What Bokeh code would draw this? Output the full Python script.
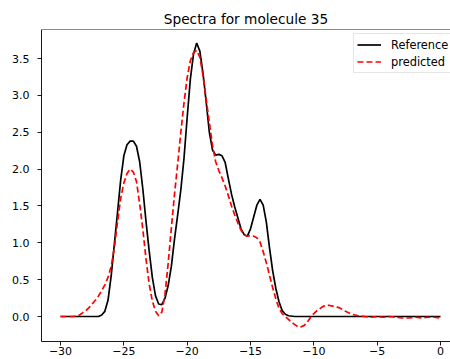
from bokeh.plotting import figure
from bokeh.models import Span, FixedTicker, Legend, LegendItem, Range1d
from bokeh.embed import file_html
from bokeh.resources import INLINE

# ---- data ----
x_ref = [-30, -29, -28, -27.5, -27.25, -27, -26.75, -26.5, -26.25, -26, -25.75, -25.5, -25.25,
         -25, -24.75, -24.5, -24.25, -24, -23.75, -23.5, -23.25, -23, -22.75, -22.5, -22.25,
         -22, -21.75, -21.5, -21.25, -21, -20.75, -20.5, -20.25, -20, -19.75, -19.5, -19.25,
         -19, -18.75, -18.5, -18.25, -18, -17.75, -17.5, -17.25, -17, -16.75, -16.5, -16.25,
         -16, -15.75, -15.5, -15.25, -15, -14.75, -14.5, -14.25, -14, -13.75, -13.5, -13.25,
         -13, -12.75, -12.5, -12.25, -12, -11.5, -10, -5, 0]
y_ref = [0.0, 0.0, 0.0, 0.0, 0.0, 0.0, 0.02, 0.07, 0.22, 0.55, 0.98, 1.41, 1.85,
         2.18, 2.33, 2.38, 2.38, 2.31, 2.10, 1.73, 1.29, 0.89, 0.53, 0.28, 0.17,
         0.16, 0.25, 0.42, 0.68, 1.05, 1.38, 1.72, 2.15, 2.70, 3.22, 3.56, 3.71,
         3.60, 3.30, 2.91, 2.50, 2.26, 2.19, 2.20, 2.18, 2.09, 1.87, 1.66, 1.49,
         1.34, 1.19, 1.11, 1.09, 1.19, 1.35, 1.51, 1.59, 1.51, 1.28, 0.93, 0.62,
         0.38, 0.20, 0.08, 0.03, 0.01, 0.0, 0.0, 0.0, 0.0]

x_pred = [-30, -29.5, -29, -28.75, -28.5, -28.25, -28, -27.75, -27.5, -27.25, -27, -26.75,
          -26.5, -26.25, -26, -25.75, -25.5, -25.25, -25, -24.75, -24.5, -24.25, -24, -23.75,
          -23.5, -23.25, -23, -22.75, -22.5, -22.25, -22, -21.75, -21.5, -21.25, -21, -20.75,
          -20.5, -20.25, -20, -19.75, -19.5, -19.25, -19, -18.75, -18.5, -18.25, -18, -17.75,
          -17.5, -17.25, -17, -16.75, -16.5, -16.25, -16, -15.75, -15.5, -15.25, -15, -14.75,
          -14.5, -14.25, -14, -13.75, -13.5, -13.25, -13, -12.75, -12.5, -12.25, -12, -11.75,
          -11.5, -11.25, -11, -10.75, -10.5, -10.25, -10, -9.75, -9.5, -9.25, -9, -8.75,
          -8.5, -8.25, -8, -7.5, -7, -6.5, -6, -5.5, -5, -4.5, -4, -3.5,
          -3, -2.5, -2, -1.5, -1, -0.5, 0]
y_pred = [0.0, 0.0, 0.0, 0.01, 0.02, 0.05, 0.08, 0.12, 0.17, 0.22, 0.28, 0.35,
          0.43, 0.53, 0.68, 0.93, 1.28, 1.60, 1.81, 1.94, 2.00, 1.96, 1.83, 1.53,
          1.18, 0.78, 0.44, 0.21, 0.07, 0.01, 0.06, 0.30, 0.72, 1.20, 1.66, 2.07,
          2.50, 2.90, 3.24, 3.47, 3.58, 3.61, 3.52, 3.27, 2.95, 2.63, 2.32, 2.10,
          1.98, 1.88, 1.77, 1.64, 1.50, 1.38, 1.27, 1.17, 1.11, 1.09, 1.10, 1.09,
          1.07, 1.01, 0.88, 0.73, 0.56, 0.39, 0.24, 0.11, 0.04, 0.0, -0.04, -0.08,
          -0.11, -0.14, -0.14, -0.12, -0.07, -0.01, 0.04, 0.08, 0.11, 0.14, 0.15, 0.15,
          0.14, 0.13, 0.12, 0.07, 0.03, 0.01, 0.0, -0.01, 0.0, -0.01, 0.0, -0.01,
          -0.02, -0.02, -0.01, -0.02, -0.01, -0.01, -0.02]

x_ticks = [-30, -25, -20, -15, -10, -5, 0]
x_tick_labels = ["\u221230", "\u221225", "\u221220", "\u221215", "\u221210", "\u22125", "0"]
y_ticks = [0.0, 0.5, 1.0, 1.5, 2.0, 2.5, 3.0, 3.5]
y_tick_labels = ["0.0", "0.5", "1.0", "1.5", "2.0", "2.5", "3.0", "3.5"]

title_text = "Spectra for molecule 35"
series_labels = ["Reference", "predicted"]

FONT = "DejaVu Sans"
Y_TOP = 3.894

p = figure(width=450, height=359, output_backend="svg", toolbar_location=None,
           x_range=Range1d(-31.5, 0.787), y_range=Range1d(-0.339, Y_TOP),
           min_border_left=41, min_border_right=0, min_border_top=29, min_border_bottom=18,
           title=title_text)
p.background_fill_color = "white"
p.border_fill_color = "white"
p.outline_line_color = None
p.xgrid.visible = False
p.ygrid.visible = False

p.title.text_font = FONT
p.title.text_font_size = "13.7px"
p.title.text_font_style = "normal"
p.title.text_color = "black"
p.title.align = "center"
p.title.standoff = 5
p.title.offset = 4

r1 = p.line(x_ref, y_ref, line_color="black", line_width=1.7)
r2 = p.line(x_pred, y_pred, line_color="#ff0000", line_width=1.7, line_dash="6 3")

for ax in (p.xaxis[0], p.yaxis[0]):
    ax.axis_line_color = "black"
    ax.axis_line_width = 0.9
    ax.major_tick_line_color = "black"
    ax.major_tick_line_width = 0.9
    ax.major_tick_out = 4
    ax.major_tick_in = 0
    ax.minor_tick_line_color = None
    ax.major_label_text_font = FONT
    ax.major_label_text_font_size = "11px"
    ax.major_label_text_color = "black"

p.xaxis.ticker = FixedTicker(ticks=x_ticks)
p.xaxis.major_label_overrides = {t: l for t, l in zip(x_ticks, x_tick_labels)}
p.xaxis.major_label_standoff = 1
p.yaxis.ticker = FixedTicker(ticks=y_ticks)
p.yaxis.major_label_overrides = {t: l for t, l in zip(y_ticks, y_tick_labels)}
p.yaxis.major_label_standoff = 8

top_spine = Span(location=Y_TOP, dimension="width", line_color="black", line_width=0.9)
p.add_layout(top_spine)

legend = Legend(items=[LegendItem(label=series_labels[0], renderers=[r1]),
                       LegendItem(label=series_labels[1], renderers=[r2])],
                location=(312, 268), padding=3, spacing=2, label_height=15, glyph_height=15,
                glyph_width=24, label_standoff=10, margin=0,
                label_text_font=FONT, label_text_font_size="11.4px", label_text_color="black",
                border_line_color="#cccccc", border_line_width=1,
                background_fill_color="white", background_fill_alpha=0.8)
p.add_layout(legend)

open("out.html", "w").write(file_html(p, INLINE))
